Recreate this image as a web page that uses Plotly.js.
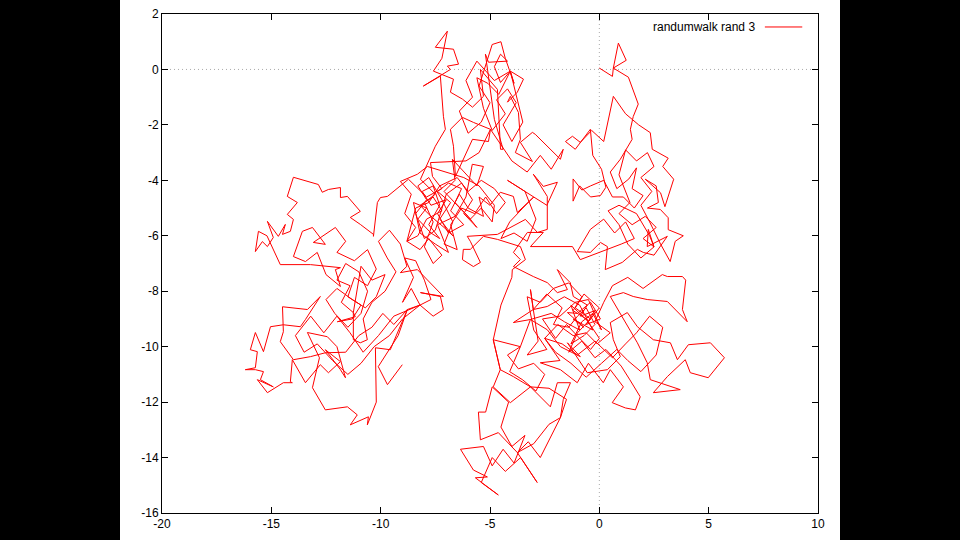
<!DOCTYPE html>
<html>
<head>
<meta charset="utf-8">
<script src="https://cdn.plot.ly/plotly-3.0.1.min.js"></script>
<style>
  html, body { margin: 0; padding: 0; background: #000; }
  #chart { width: 720px; height: 540px; margin-left: 120px; background: #fff; }
</style>
</head>
<body>
<div id="chart"></div>
<script>
const seriesName = "randumwalk rand 3";
const xTickValues = [-20, -15, -10, -5, 0, 5, 10];
const yTickValues = [2, 0, -2, -4, -6, -8, -10, -12, -14, -16];

const walkX = [
  0,0.6,0.64,0.87,1.23,0.64,1.33,1.78,1.55,1.42,
  1.5,0.96,0.5,0.8,1.35,1.7,1.5,2.0,1.6,1.1,
  0.6,0.2,-0.4,-0.8,-1.2,-1.2,-0.9,-0.4,0.05,0.3,
  0.1,-0.3,-0.41,-1.1,-1.55,-1.23,-0.87,-0.35,0.2,0.64,
  1.2,1.8,2.33,2.42,3.15,2.9,3.4,3.0,2.8,2.1,
  2.6,2.7,2.2,2.79,3.15,3.15,3.84,3.47,3.24,2.8,
  2.3,1.9,2.4,1.9,2.5,2.2,1.7,1.2,0.9,1.4,0.9,1.5,2.1,2.6,2.0,2.5,
  1.9,1.3,0.9,0.4,0.9,1.7,2.3,2.5,
  2.24,2.19,3.11,2.5,2.01,1.74,1.05,0.27,0.37,0.05,
  -0.41,-1.01,-0.41,0.2,0.7,1.2,1.6,1.0,-0.87,-1.23,
  -3.15,-2.56,-3.29,-3.93,-3.61,-3.93,-3.02,-2.38,-1.92,-1.46,
  -1.92,-1.33,-1.19,-0.55,-0.87,-0.2,-0.6,0.05,-0.4,-1.0,
  -1.46,-0.7,-1.2,-0.3,-0.9,-1.6,-2.38,-3.02,-3.15,-3.02,
  -2.4,-1.7,-2.1,-1.4,-1.0,-0.6,-0.2,-0.7,-1.3,-0.8,
  -0.3,0.1,-0.5,-1.1,-1.8,-2.6,-2.0,-1.5,-0.9,-0.4,
  0.0,-0.6,-1.2,-0.8,-1.4,-2.1,-2.7,-3.3,-3.0,-2.4,
  -3.3,-2.8,-3.02,
  -3.93,-3.15,-2.38,-1.78,-0.87,-1.46,-0.55,0.37,0.96,0.64,
  0.5,1.28,1.74,2.47,3.25,3.57,4.07,5.08,5.72,4.98,
  4.16,3.93,3.11,2.47,3.7,2.33,2.19,1.74,0.5,1.1,
  1.55,2.19,3.11,4.02,3.8,3.95,3.8,3.11,2.88,2.0,
  1.3,0.6,0.2,-0.2,0.5,-0.1,-0.6,-1.2,-1.9,-2.5,
  -2.0,-1.3,-0.6,0.1,0.8,1.3,1.9,2.6,2.9,2.3,1.7,1.2,0.6,-0.2,-1.0,-1.7,-2.5,
  -1.8,-2.7,-1.78,-1.01,-0.5,0.18,0.5,1.1,0.59,1.19,
  1.65,1.87,1.4,1.0,0.3,-0.2,-0.8,-1.4,-1.0,-0.4,
  -1.1,-0.7,0.0,-0.5,-1.3,-0.9,-1.6,-2.2,-3.15,-3.61,
  -4.2,-3.7,-3.0,-2.5,-2.9,-3.5,-4.1,-3.61,
  -4.85,-4.53,-3.93,-3.15,-2.24,-1.92,-1.32,-1.65,-1.78,-2.7,
  -3.25,-3.75,-4.62,-5.44,-5.53,-5.2,-4.9,-4.15,-4.5,-4.0,
  -3.4,-3.9,-4.4,-4.9,-5.3,-6.35,-5.76,-5.12,-5.67,-4.62,
  -5.4,-4.9,-4.3,-3.6,-2.84,-3.75,-3.0,-2.3,-1.78,-1.5,
  -2.3,-3.15,-4.07,-4.85,-4.53,-4.85,-4.5,-4.0,-3.98,-3.38,
  -3.61,-4.66,-5.3,-5.9,-6.22,-6.26,-5.76,-5.44,-5.9,-6.04,
  -4.66,-3.38,-2.83,-2.38,-2.38,-3.02,-2.56,-1.92,-2.4,-3.0,
  -3.5,-4.1,-4.5,-3.9,-3.3,-2.9,-3.4,-4.2,-3.0,
  -3.75,-3.93,-4.53,-5.0,-5.5,-5.3,-6.0,-6.4,-6.8,-6.2,
  -6.9,-7.4,-7.0,-7.7,-8.1,-7.6,-7.3,-7.8,-7.3,-7.7,
  -8.3,-7.9,-8.5,-8.2,-7.5,-6.9,-7.4,-6.6,-6.1,-5.81,
  -5.3,-5.6,-6.72,-6.6,-7.1,-6.5,-5.9,-5.4,-4.9,-4.8,
  -5.5,-6.2,-7.0,-7.86,-8.32,-9.1,-8.6,-8.9,-8.4,-8.8,
  -8.3,-7.9,-7.2,-7.6,-8.2,-7.7,-7.1,-6.7,-7.3,-6.8,
  -7.4,-6.9,-6.3,-6.6,-6.0,-5.6,-6.2,-5.8,-6.3,-7.0,
  -7.5,-8.0,-8.4,-7.9,-8.3,-7.8,-7.2,-6.7,-7.1,-6.5,
  -6.8,-6.3,-5.7,-5.2,-4.7,-4.3,-4.8,-5.4,-6.0,-6.5,
  -7.3,-7.8,-8.4,-8.8,
  -8.2,-7.8,-7.2,-7.6,-8.0,-7.6,-8.0,-7.5,-8.18,-7.5,
  -7.04,-7.13,-7.27,-8.05,-7.27,-6.81,-6.95,-6.44,-6.67,-7.5,
  -6.95,-7.2,-7.59,-6.67,-6.81,-6.26,-5.8,-5.3,-5.44,-4.66,
  -4.52,-4.4,-4.8,-5.21,-5.07,-4.2,-4.52,-4.8,-4.52,-4.07,
  -4.6,-5.1,-5.6,-5.3,-4.9,-4.3,-4.7,-4.2,-3.8,-4.4,-4.0,-3.5,-4.07,
  -4.8,-5.6,-6.1,-5.8,-6.4,-6.0,-5.4,-5.0,-5.5,-4.9,-4.5,-4.3,-3.9,-4.07,
  -3.47,-3.75,-4.2,-4.07,-3.7,-3.61,-3.84,-3.06,-3.61,-3.06,
  -2.93,-1.78,-1.65,-2.2,-2.7,-3.3,-4.0,-4.98,-5.76,-6.26,
  -6.81,-6.67,-6.58,-5.8,-5.07,-4.98,-5.5,-6.1,-7.72,-7.63,
  -7.2,-7.9,-8.73,-9.69,-10.01,-10.15,-10.33,-10.33,-10.93,-11.39,
  -10.93,-11.52,-11.84,-11.84,-12.39,-12.67,-12.85,-13.99,-14.27,-13.81,
  -14.27,-13.99,-14.13,-14.49,-14.36,-14.68,-15.18,-14.91,-15.18,-15.41,
  -15.73,-15.59,-15.2,-14.59,-13.21,-11.84,-12.07,-11.84,-12.5,-12.9,
  -13.44,-13.99,-13.58,-13.12,-12.53,-13.08,-12.07,-11.6,-12.0,-11.2,
  -10.6,-10.2,-10.6,-11.2,-11.5,-10.9,-11.3,-11.98,-11.16,-11.25,
  -11.8,-11.4,-12.0,-11.6,-11.0,-10.6,-10.9,-11.5,-12.1,-12.5,
  -12.0,-11.3,-10.7,-10.2,-9.8,-10.4,-10.9,-11.25,
  -11.25,-10.93,-10.61,-10.8,-10.4,-9.8,-9.3,-9.7,-10.1,-9.6,
  -9.1,-8.8,-9.1,-8.32,-7.13,-8.18,-7.27,-7.13,-7.6,-8.2,
  -8.6,-9.0,-8.5,-8.9,-8.4,-8.0,-7.7,-8.2,
  -9.0,-9.6,-10.3,-10.9,-11.5,-12.2,-12.9,-13.5,-13.9,-13.2,-12.6,-12.0,-11.4,-10.8,-10.1,-9.4,-8.2,
  -8.78,-9.4,-9.9,-10.4,-11.0,-11.6,-12.53,-13.21,-13.99,-14.59,
  -14.45,-14.49,-13.35,-12.76,-13.44,-13.67,-14.45,-15.04,-15.36,-15.73,
  -15.96,-15.64,-15.73,-16.19,-15.73,-15.36,-15.5,-14.91,-15.64,-15.18,
  -14.45,-14.04,-14.13,-14.04,-13.44,-12.76,-12.39,-11.84,-12.53,-11.84,
  -11.61,-12.0,-12.44,-13.35,-12.8,-13.12,-12.53,-11.52,-11.07,-11.39,
  -10.56,-10.61,-10.2,-10.24,-9.56,-8.78,-9.2,-10.11,-9.69,-9.01
];

const walkY = [
  0.05,-0.25,0.05,0.95,0.33,0.05,-0.28,-1.25,-1.7,-2.16,
  -2.52,-3.24,-3.7,-4.3,-3.95,-3.55,-4.3,-4.55,-5.0,-4.6,
  -4.6,-4.0,-4.2,-4.35,-3.95,-4.75,-4.2,-4.6,-4.55,-4.25,
  -3.6,-3.1,-2.16,-2.88,-2.6,-2.41,-2.63,-2.2,-2.6,-0.97,
  -1.6,-2.0,-2.28,-2.88,-3.2,-3.5,-3.96,-4.95,-4.45,-3.96,
  -4.2,-4.8,-5.0,-5.05,-5.35,-5.78,-6.0,-6.2,-6.93,-6.3,
  -5.5,-4.9,-4.4,-3.9,-3.5,-3.0,-3.3,-2.9,-3.8,-4.8,-5.2,-5.6,-5.3,-5.7,-6.1,-6.4,
  -6.8,-6.3,-5.6,-5.1,-4.9,-5.2,-6.0,-6.4,
  -5.77,-6.39,-6.02,-6.7,-6.6,-6.49,-6.96,-7.22,-6.39,-6.24,
  -6.6,-6.57,-5.77,-5.4,-5.9,-5.5,-6.1,-6.3,-6.86,-6.39,
  -6.39,-5.88,-5.88,-6.6,-6.86,-7.11,-7.47,-7.69,-8.05,-7.94,
  -7.22,-7.69,-8.19,-8.5,-8.9,-8.7,-9.2,-9.0,-8.4,-8.8,
  -8.77,-9.3,-9.0,-9.4,-8.5,-8.2,-8.55,-8.66,-7.94,-8.66,
  -8.1,-8.6,-9.2,-9.3,-8.9,-8.6,-9.2,-9.6,-9.9,-9.1,
  -8.8,-9.4,-8.3,-8.4,-8.9,-9.0,-9.7,-9.2,-9.7,-10.1,
  -9.7,-9.0,-8.7,-8.2,-7.7,-7.9,-8.4,-8.2,-9.4,-10.1,
  -10.3,-9.8,-8.66,
  -9.13,-9.02,-9.39,-10.0,-10.36,-9.86,-10.94,-10.83,-10.36,-9.75,
  -9.13,-8.77,-9.28,-9.75,-9.86,-10.47,-9.93,-9.86,-10.4,-11.12,
  -10.94,-10.47,-11.08,-11.66,-11.55,-11.19,-10.58,-9.86,-8.19,-8.05,
  -8.19,-8.3,-8.37,-9.1,-8.66,-7.6,-7.47,-7.47,-7.4,-7.9,
  -7.5,-7.8,-8.4,-9.1,-9.5,-9.9,-9.5,-9.6,-9.2,-9.7,
  -10.2,-10.6,-11.1,-10.6,-10.1,-10.5,-10.9,-10.3,-9.3,-8.9,-9.5,-9.9,-10.4,-9.8,-10.3,-9.9,-9.7,
  -10.5,-10.58,-10.83,-11.3,-10.6,-11.3,-10.83,-11.45,-12.02,-12.21,
  -12.28,-11.81,-11.2,-10.7,-10.1,-10.4,-9.8,-10.2,-9.5,-9.0,
  -8.6,-8.1,-8.6,-9.1,-8.5,-9.4,-9.1,-8.8,-9.02,-10.0,
  -10.3,-10.8,-10.6,-11.0,-11.6,-11.2,-10.9,-10.0,
  -9.75,-10.83,-11.08,-11.45,-12.17,-11.3,-11.3,-11.91,-12.56,-14.0,
  -13.43,-13.82,-13.1,-13.36,-12.36,-12.36,-11.45,-12.0,-12.9,-13.6,
  -13.2,-14.2,-13.7,-14.3,-13.6,-13.7,-14.45,-14.7,-14.73,-15.35,
  -14.9,-14.0,-14.5,-14.0,-14.9,-13.82,-13.5,-12.8,-12.56,-11.9,
  -11.5,-11.45,-12.02,-11.45,-10.83,-9.75,-8.5,-7.5,-7.22,-6.86,
  -6.39,-6.13,-6.02,-6.49,-6.49,-6.86,-7.11,-6.96,-6.2,-6.02,
  -5.95,-5.41,-5.88,-5.77,-4.58,-3.78,-4.22,-4.07,-4.9,-4.6,
  -5.0,-5.5,-6.1,-5.9,-6.2,-5.4,-4.4,-4.0,-4.6,
  -5.16,-4.58,-4.43,-4.9,-4.6,-5.3,-5.0,-4.5,-5.1,-5.6,
  -5.9,-5.2,-4.7,-4.9,-4.4,-4.2,-4.9,-5.6,-6.1,-5.9,
  -5.4,-5.0,-4.8,-5.9,-6.3,-6.6,-5.6,-5.3,-4.6,-3.42,
  -3.5,-4.2,-3.24,-4.0,-4.4,-4.9,-5.4,-5.0,-5.5,-4.9,
  -4.2,-3.9,-3.7,-3.5,-3.78,-4.04,-4.5,-5.2,-5.7,-6.2,
  -6.0,-5.4,-5.1,-4.6,-4.9,-5.3,-5.7,-6.0,-5.4,-4.8,
  -4.4,-4.1,-4.3,-4.8,-5.3,-5.7,-5.2,-4.7,-4.1,-4.5,
  -5.8,-6.1,-5.2,-4.7,-4.2,-3.9,-4.7,-5.5,-6.3,-6.5,
  -5.6,-5.0,-5.2,-4.6,-5.2,-4.8,-4.3,-4.0,-4.4,-3.9,
  -4.2,-4.8,-5.0,-6.2,
  -6.5,-6.1,-6.7,-7.0,-6.4,-5.5,-4.8,-4.5,-3.96,-2.77,
  -2.16,-1.69,-0.24,-0.6,-0.24,0.0,0.12,0.19,0.73,0.8,
  1.38,0.4,-0.06,-0.35,-0.82,-1.07,-1.36,-0.97,0.0,-0.72,
  -2.88,-2.88,-1.8,0.55,0.26,0.3,0.55,0.1,-0.47,-0.06,
  -0.9,-0.5,-0.3,-1.4,-2.2,-1.6,-1.1,-0.7,-1.2,-2.0,-2.6,-1.9,-0.06,
  -0.4,0.3,-0.4,-1.0,-1.5,-2.3,-1.9,-1.2,-0.6,0.9,1.0,0.4,-0.5,-0.06,
  -0.35,-0.82,-1.18,-0.97,-1.55,-2.52,-3.0,-3.32,-2.63,-2.27,
  -2.34,-3.24,-2.88,-3.6,-3.1,-3.7,-3.3,-2.16,-1.91,-1.73,
  -2.16,-2.77,-3.86,-2.52,-2.6,-2.16,-3.0,-3.3,-3.36,-3.86,
  -4.3,-4.6,-3.96,-4.58,-4.62,-4.8,-6.02,-5.95,-5.59,-5.34,
  -5.12,-4.58,-4.62,-4.26,-4.33,-4.43,-4.15,-3.89,-4.58,-4.8,
  -5.23,-5.41,-5.84,-5.95,-5.59,-6.02,-5.48,-6.06,-6.39,-6.21,
  -6.57,-5.84,-6.0,-7.04,-7.04,-7.15,-7.22,-7.83,-7.4,-6.6,
  -6.93,-6.75,-5.84,-5.7,-6.31,-6.24,-5.7,-6.2,-6.6,-6.9,
  -6.5,-7.2,-7.8,-7.5,-8.2,-8.5,-9.0,-9.1,-8.92,-8.77,
  -8.4,-7.8,-7.6,-7.0,-7.3,-8.0,-8.8,-9.3,-8.8,-8.3,
  -7.9,-8.3,-8.6,-8.2,-7.4,-7.6,-7.1,-8.77,
  -9.75,-9.86,-9.75,-9.0,-8.4,-8.0,-7.3,-6.8,-6.2,-5.8,
  -6.3,-7.1,-7.33,-7.22,-8.19,-8.05,-8.19,-8.66,-8.9,-8.5,
  -7.9,-8.4,-7.5,-6.8,-6.9,-7.6,-8.3,-8.5,
  -9.0,-9.6,-10.0,-10.6,-11.0,-10.5,-9.9,-10.2,-9.6,-8.9,-9.5,-8.9,-9.5,-10.2,-9.6,-8.9,-8.5,
  -8.66,-9.2,-8.8,-9.3,-9.6,-10.2,-10.22,-10.36,-10.47,-9.82,
  -9.46,-8.56,-8.66,-8.19,-9.02,-9.28,-9.21,-9.28,-10.18,-9.49,
  -10.11,-10.18,-10.76,-10.83,-10.83,-10.9,-11.19,-11.45,-11.19,-11.66,
  -11.3,-11.3,-11.27,-10.47,-11.3,-10.65,-10.94,-10.54,-10.11,-10.83,
  -11.12,-10.0,-9.64,-9.49,-10.4,-11.48,-12.28,-12.17,-12.46,-12.82,
  -12.53,-12.82,-12.0,-10.04,-10.11,-8.66,-9.6,-10.72,-11.37,-10.65
];

const tickFont = { family: "Liberation Sans, Arial, sans-serif", size: 12, color: "#000" };

const trace = {
  x: walkX,
  y: walkY,
  type: "scatter",
  mode: "lines",
  name: seriesName,
  line: { color: "#ff0000", width: 1 },
  showlegend: false,
  hoverinfo: "x+y"
};

const axisCommon = {
  showgrid: false,
  zeroline: false,
  showline: true,
  linecolor: "#000",
  linewidth: 1,
  mirror: "allticks",
  ticks: "inside",
  ticklen: 6,
  tickwidth: 1,
  tickcolor: "#000",
  tickfont: tickFont
};

const layout = {
  width: 720,
  height: 540,
  paper_bgcolor: "#fff",
  plot_bgcolor: "#fff",
  margin: { l: 42, r: 22, t: 14, b: 27 },
  xaxis: Object.assign({}, axisCommon, {
    range: [xTickValues[0], xTickValues[xTickValues.length - 1]],
    tickvals: xTickValues,
    ticktext: xTickValues.map(String)
  }),
  yaxis: Object.assign({}, axisCommon, {
    range: [yTickValues[yTickValues.length - 1], yTickValues[0]],
    tickvals: yTickValues,
    ticktext: yTickValues.map(String)
  }),
  shapes: [
    { type: "line", xref: "x", yref: "paper", x0: 0, x1: 0, y0: 0, y1: 1,
      layer: "below", line: { color: "#aaa", width: 1, dash: "1px,3px" } },
    { type: "line", xref: "paper", yref: "y", x0: 0, x1: 1, y0: 0, y1: 0,
      layer: "below", line: { color: "#aaa", width: 1, dash: "1px,3px" } },
    { type: "line", xref: "paper", yref: "paper", x0: 0.919, x1: 0.976, y0: 0.974, y1: 0.974,
      line: { color: "#ff0000", width: 1 } }
  ],
  annotations: [
    { text: seriesName, xref: "paper", yref: "paper", x: 0.907, y: 0.974,
      xanchor: "right", yanchor: "middle", showarrow: false,
      font: { family: "Liberation Sans, Arial, sans-serif", size: 12, color: "#000" } }
  ]
};

Plotly.newPlot("chart", [trace], layout, { displayModeBar: false, staticPlot: true });
</script>
</body>
</html>
